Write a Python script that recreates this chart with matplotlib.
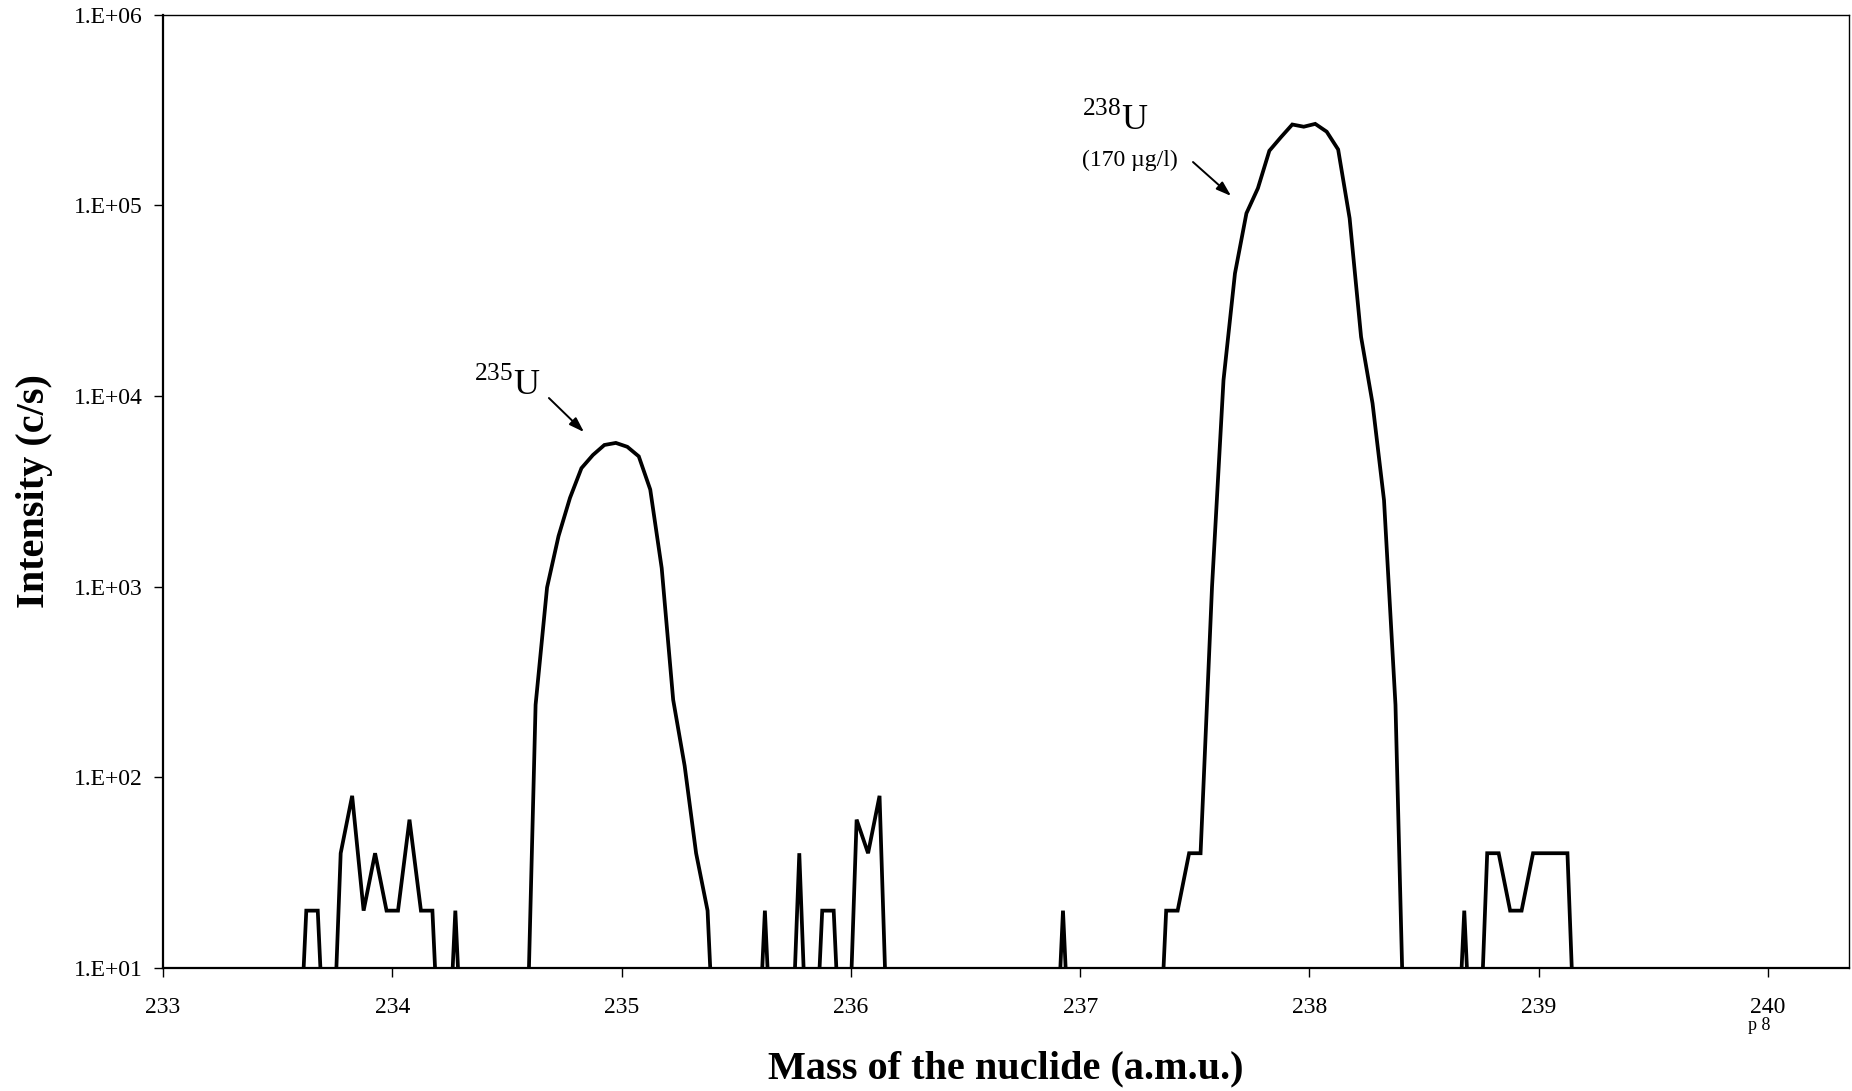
import matplotlib
matplotlib.use("Agg")
import matplotlib.pyplot as plt
from matplotlib.ticker import FixedLocator, FuncFormatter, NullLocator
import numpy as np
import math

# scan channels [a.m.u.]
mass = [
    233.525, 233.575, 233.625, 233.675, 233.725, 233.775, 233.825, 233.875, 233.925, 233.975,
    234.025, 234.075, 234.125, 234.175, 234.225, 234.275, 234.325, 234.375, 234.425, 234.475,
    234.525, 234.575, 234.625, 234.675, 234.725, 234.775, 234.825, 234.875, 234.925, 234.975,
    235.025, 235.075, 235.125, 235.175, 235.225, 235.275, 235.325, 235.375, 235.425, 235.475,
    235.525, 235.575, 235.625, 235.675, 235.725, 235.775, 235.825, 235.875, 235.925, 235.975,
    236.025, 236.075, 236.125, 236.175, 236.225, 236.275, 236.325, 236.375, 236.425, 236.475,
    236.525, 236.575, 236.625, 236.675, 236.725, 236.775, 236.825, 236.875, 236.925, 236.975,
    237.025, 237.075, 237.125, 237.175, 237.225, 237.275, 237.325, 237.375, 237.425, 237.475,
    237.525, 237.575, 237.625, 237.675, 237.725, 237.775, 237.825, 237.875, 237.925, 237.975,
    238.025, 238.075, 238.125, 238.175, 238.225, 238.275, 238.325, 238.375, 238.425, 238.475,
    238.525, 238.575, 238.625, 238.675, 238.725, 238.775, 238.825, 238.875, 238.925, 238.975,
    239.025, 239.075, 239.125, 239.175, 239.225,
]

# count rate per channel [c/s]
counts = [
    0, 0, 20, 20, 0, 40, 80, 20, 40, 20,
    20, 60, 20, 20, 0, 20, 0, 0, 0, 0,
    0, 0, 240, 990, 1840, 2920, 4180, 4900, 5530, 5670,
    5410, 4820, 3230, 1250, 255, 115, 40, 20, 0, 0,
    0, 0, 20, 0, 0, 40, 0, 20, 20, 0,
    60, 40, 80, 0, 0, 0, 0, 0, 0, 0,
    0, 0, 0, 0, 0, 0, 0, 0, 20, 0,
    0, 0, 0, 0, 0, 0, 0, 20, 20, 40,
    40, 1000, 12100, 43900, 90700, 122700, 193000, 227000, 265000, 258000,
    267000, 243000, 196000, 85400, 20400, 9140, 2840, 240, 0, 0,
    0, 0, 0, 20, 0, 40, 40, 20, 20, 40,
    40, 40, 40, 0, 0,
]

x_ticks = [233, 234, 235, 236, 237, 238, 239, 240]
y_ticks = [1e1, 1e2, 1e3, 1e4, 1e5, 1e6]

serif = ["Liberation Serif", "DejaVu Serif"]


def exp_label(v, pos):
    # Excel style "1.E+05"
    return "1.E+%02d" % int(round(math.log10(v)))


def main():
    plt.rcParams["font.family"] = serif
    plt.rcParams["mathtext.fontset"] = "custom"
    plt.rcParams["mathtext.rm"] = "Liberation Serif"

    fig = plt.figure(figsize=(18.52, 10.91), dpi=100)
    ax = fig.add_axes([0.0880, 0.1127, 0.9104, 0.8740])

    # empty channels (0 c/s) have no place on a log axis: pin them below the floor
    y = np.array(counts, dtype=float)
    y[y <= 0] = 1.0
    ax.plot(mass, y, color="black", lw=2.7, solid_joinstyle="miter")

    ax.set_yscale("log")
    ax.set_xlim(233, 240.353)
    ax.set_ylim(10, 1e6)

    ax.xaxis.set_major_locator(FixedLocator(x_ticks))
    ax.xaxis.set_minor_locator(NullLocator())
    ax.yaxis.set_major_locator(FixedLocator(y_ticks))
    ax.yaxis.set_minor_locator(NullLocator())
    ax.yaxis.set_major_formatter(FuncFormatter(exp_label))

    ax.tick_params(axis="both", direction="out", length=6.5, width=1.0,
                   labelsize=17, colors="black")
    ax.tick_params(axis="x", pad=14)
    ax.tick_params(axis="y", pad=8)

    for side in ["left", "bottom"]:
        ax.spines[side].set_linewidth(1.6)
    for side in ["top", "right"]:
        ax.spines[side].set_linewidth(1.0)

    # peak labels
    ax.text(0.1842, 0.6015, r"$^{235}\mathrm{U}$", transform=ax.transAxes,
            fontsize=26, ha="left", va="baseline")
    ax.annotate("", xy=(0.2497, 0.5621), xytext=(0.2289, 0.5978),
                xycoords="axes fraction", textcoords="axes fraction",
                arrowprops=dict(arrowstyle="-|>,head_length=0.9,head_width=0.3",
                                color="black", lw=1.4, shrinkA=0, shrinkB=0))

    ax.text(0.5451, 0.8789, r"$^{238}\mathrm{U}$", transform=ax.transAxes,
            fontsize=26, ha="left", va="baseline")
    ax.text(0.5451, 0.8411, "(170 \u00b5g/l)", transform=ax.transAxes,
            fontsize=17, ha="left", va="baseline")
    ax.annotate("", xy=(0.6335, 0.8097), xytext=(0.6109, 0.8453),
                xycoords="axes fraction", textcoords="axes fraction",
                arrowprops=dict(arrowstyle="-|>,head_length=0.9,head_width=0.3",
                                color="black", lw=1.4, shrinkA=0, shrinkB=0))

    fig.text(35 / 1852, 1 - 491 / 1091, "Intensity (c/s)", rotation=90,
             ha="center", va="center", fontsize=29, fontweight="bold")
    fig.text(1006 / 1852, 1 - 1069 / 1091, "Mass of the nuclide (a.m.u.)",
             ha="center", va="center", fontsize=29, fontweight="bold")
    fig.text(1759 / 1852, 1 - 1030 / 1091, "p 8", ha="center", va="baseline",
             fontsize=13)

    fig.savefig("out.png", dpi=100, facecolor="white")


if __name__ == '__main__':
    main()
